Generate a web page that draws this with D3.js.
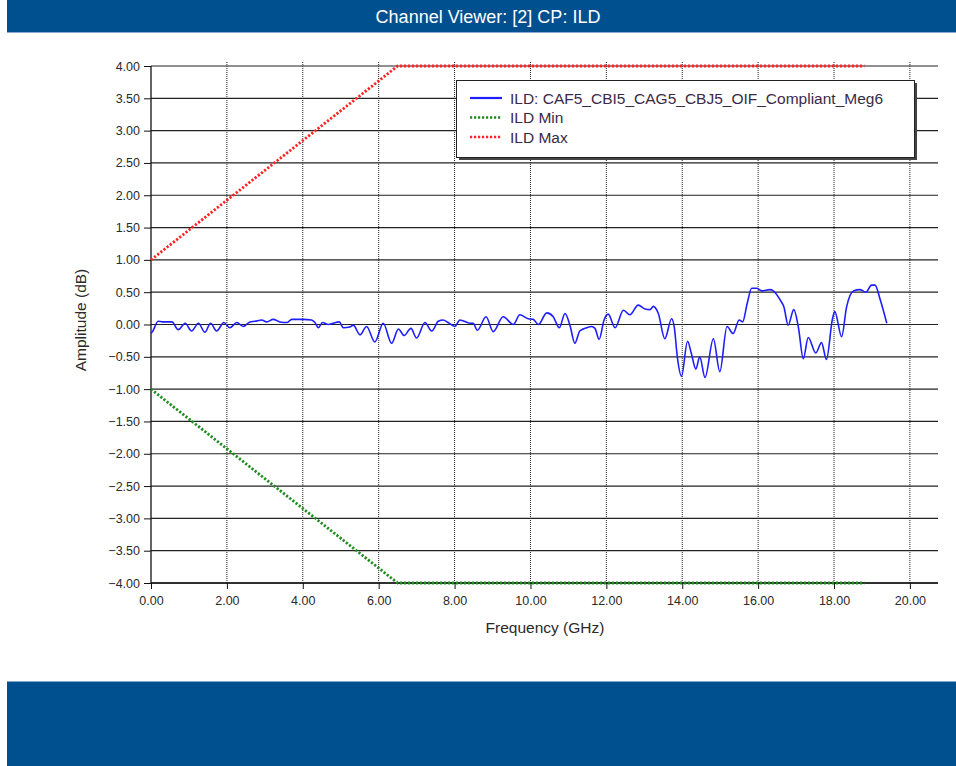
<!DOCTYPE html>
<html><head><meta charset="utf-8">
<script src="https://cdn.jsdelivr.net/npm/d3@7"></script>
<style>
html,body{margin:0;padding:0;background:#fff;}
svg{display:block;font-family:"Liberation Sans",Arial,sans-serif;}
</style></head>
<body>
<svg id="chart" width="956" height="766"></svg>
<script>
// ---- data ----
const title = "Channel Viewer: [2] CP: ILD";
const xTicks = [0,2,4,6,8,10,12,14,16,18,20];
const yTicks = [4,3.5,3,2.5,2,1.5,1,0.5,0,-0.5,-1,-1.5,-2,-2.5,-3,-3.5,-4];
const seriesNames = ["ILD: CAF5_CBI5_CAG5_CBJ5_OIF_Compliant_Meg6","ILD Min","ILD Max"];
const ildFreq = [0.00,0.04,0.19,0.30,0.55,0.72,0.90,1.07,1.25,1.42,1.57,1.73,1.92,2.08,2.26,2.43,2.61,2.74,2.92,3.05,3.22,3.40,3.58,3.71,4.01,4.23,4.32,4.41,4.52,4.67,4.80,4.96,5.07,5.24,5.33,5.51,5.68,5.90,6.12,6.34,6.52,6.67,6.85,7.00,7.22,7.40,7.57,7.70,7.83,8.01,8.14,8.41,8.49,8.60,8.83,9.02,9.28,9.55,9.72,9.94,10.07,10.21,10.43,10.60,10.76,10.91,11.04,11.17,11.30,11.48,11.61,11.70,11.81,11.94,12.05,12.23,12.45,12.62,12.84,13.02,13.15,13.24,13.37,13.54,13.72,13.79,13.87,13.98,14.14,14.24,14.36,14.46,14.60,14.82,14.99,15.18,15.34,15.50,15.59,15.71,15.83,15.96,16.10,16.31,16.40,16.58,16.68,16.79,16.94,17.06,17.19,17.32,17.52,17.67,17.80,17.96,18.02,18.20,18.33,18.51,18.68,18.84,18.99,19.08,19.21,19.39];
const ildValue = [-0.14,-0.11,0.05,0.04,0.04,-0.08,0.02,-0.10,0.02,-0.12,0.02,-0.10,0.03,-0.05,0.03,-0.03,0.04,0.05,0.07,0.04,0.08,0.04,0.03,0.08,0.08,0.07,0.03,-0.05,0.03,0.00,0.02,0.04,-0.05,-0.04,-0.01,-0.16,-0.03,-0.27,0.02,-0.29,-0.07,-0.17,-0.06,-0.21,0.03,-0.10,0.05,0.07,0.03,-0.03,0.07,0.02,0.02,-0.09,0.12,-0.11,0.12,0.00,0.15,0.09,0.08,0.00,0.18,0.12,-0.05,0.17,-0.01,-0.29,-0.10,-0.05,-0.03,-0.06,-0.23,0.07,0.16,-0.05,0.22,0.15,0.30,0.24,0.23,0.28,0.17,-0.22,0.09,-0.04,-0.50,-0.80,-0.26,-0.45,-0.69,-0.50,-0.82,-0.22,-0.73,-0.03,-0.14,0.07,0.04,0.32,0.56,0.56,0.52,0.54,0.52,0.38,0.27,-0.01,0.23,-0.04,-0.53,-0.20,-0.44,-0.28,-0.54,0.09,0.20,-0.19,0.27,0.52,0.54,0.50,0.61,0.61,0.40,0.02];
const maskFreq = [0, 6.5, 18.8];
const ildMax = [1, 4, 4];
const ildMin = [-1, -4, -4];
const seriesColors = ["#1e1eff","#1e8c1e","#ff2222"];

// ---- drawing ----
const svg = d3.select("#chart");
const barColor = "#00508f";

svg.append("rect").attr("x",7).attr("y",0).attr("width",949).attr("height",32).attr("fill",barColor);
svg.append("rect").attr("x",7).attr("y",32).attr("width",949).attr("height",1).attr("fill","#86a9cc");
svg.append("text").attr("x",488).attr("y",23).attr("text-anchor","middle")
  .attr("fill","#fff").attr("font-size",18).text(title);
svg.append("rect").attr("x",7).attr("y",681).attr("width",949).attr("height",1).attr("fill","#86a9cc");
svg.append("rect").attr("x",7).attr("y",682).attr("width",949).attr("height",84).attr("fill",barColor);

const pLeft = 151, pRight = 938, pTop = 66, pBottom = 583;
const x = d3.scaleLinear().domain([0, 20.74]).range([pLeft, pRight]);
const y = d3.scaleLinear().domain([-4, 4]).range([pBottom, pTop]);

const g = svg.append("g");
// horizontal grid
g.selectAll("line.hg").data(yTicks).join("line")
  .attr("x1",pLeft).attr("x2",pRight).attr("y1",d=>y(d)).attr("y2",d=>y(d))
  .attr("stroke","#222").attr("stroke-width",1.2);
// vertical dotted grid
g.selectAll("line.vg").data(xTicks.filter(d=>d>0)).join("line")
  .attr("x1",d=>x(d)).attr("x2",d=>x(d)).attr("y1",pTop-4).attr("y2",pBottom)
  .attr("stroke","#222").attr("stroke-width",1).attr("stroke-dasharray","1,1");

// axes
const yAxis = d3.axisLeft(y).tickValues(yTicks).tickFormat(d3.format(".2f")).tickSize(7).tickPadding(4);
const ya = svg.append("g").attr("transform",`translate(${pLeft},0)`).call(yAxis);
const xAxis = d3.axisBottom(x).tickValues(xTicks).tickFormat(d3.format(".2f")).tickSize(6).tickPadding(7);
const xa = svg.append("g").attr("transform",`translate(0,${pBottom})`).call(xAxis);
[ya,xa].forEach(a=>{
  a.select(".domain").attr("stroke","#111").attr("stroke-width",1.3);
  a.selectAll(".tick line").attr("stroke","#111");
  a.selectAll(".tick text").attr("fill","#2a2a2a").attr("font-size",12.5)
    .attr("font-family","'Liberation Sans',Arial,sans-serif");
});
xa.select(".domain").attr("d",`M${pLeft},0H${pRight}`);
ya.select(".domain").attr("d",`M0,${pBottom}V${pTop}`);

svg.append("text").attr("x",545).attr("y",633).attr("text-anchor","middle")
  .attr("font-size",15.5).attr("fill","#2a2a2a").text("Frequency (GHz)");
svg.append("text").attr("transform","translate(86,320) rotate(-90)").attr("text-anchor","middle")
  .attr("font-size",15.5).attr("fill","#2a2a2a").text("Amplitude (dB)");

// mask lines
const maskLine = d3.line().x(d=>x(d[0])).y(d=>y(d[1]));
svg.append("path").datum(maskFreq.map((f,i)=>[f,ildMin[i]])).attr("d",maskLine)
  .attr("fill","none").attr("stroke",seriesColors[1]).attr("stroke-width",2.8).attr("stroke-dasharray","2.2,1.8");
svg.append("path").datum(maskFreq.map((f,i)=>[f,ildMax[i]])).attr("d",maskLine)
  .attr("fill","none").attr("stroke",seriesColors[2]).attr("stroke-width",2.8).attr("stroke-dasharray","2.2,1.8");

// ILD line
const ildLine = d3.line().x(d=>x(d[0])).y(d=>y(d[1])).curve(d3.curveMonotoneX);
svg.append("path").datum(ildFreq.map((f,i)=>[f,ildValue[i]])).attr("d",ildLine)
  .attr("fill","none").attr("stroke",seriesColors[0]).attr("stroke-width",1.6);

// legend
const lg = svg.append("g");
lg.append("rect").attr("x",459).attr("y",83).attr("width",458).attr("height",77).attr("fill","#444");
lg.append("rect").attr("x",456.5).attr("y",80.5).attr("width",458).attr("height",77)
  .attr("fill","#fff").attr("stroke","#222").attr("stroke-width",1);
seriesNames.forEach((name,i)=>{
  const yy = 98 + i*19.5;
  lg.append("line").attr("x1",470).attr("x2",502).attr("y1",yy).attr("y2",yy)
    .attr("stroke",seriesColors[i]).attr("stroke-width",i===0?2.2:2.6)
    .attr("stroke-dasharray",i===0?null:"2.2,1.8");
  lg.append("text").attr("x",510).attr("y",yy+5.5).attr("font-size",15.5)
    .attr("fill","#3a2a48").text(name);
});
</script>
</body></html>
